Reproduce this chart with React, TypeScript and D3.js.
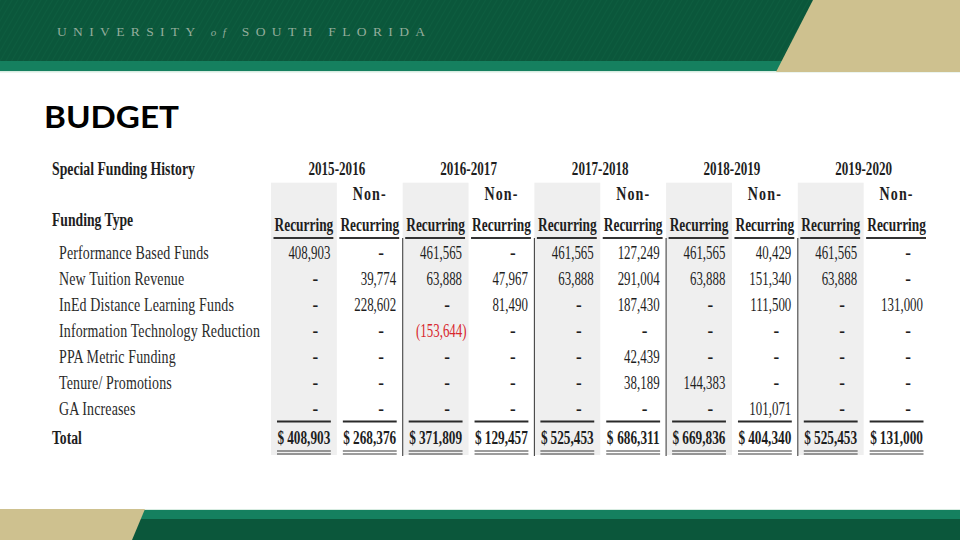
import React from 'react';
import * as d3 from 'd3';

const years = ['2015-2016', '2016-2017', '2017-2018', '2018-2019', '2019-2020'];
const columnKinds = ['Recurring', 'Non-Recurring', 'Recurring', 'Non-Recurring', 'Recurring', 'Non-Recurring', 'Recurring', 'Non-Recurring', 'Recurring', 'Non-Recurring'];
const fundingTypes = [
  'Performance Based Funds',
  'New Tuition Revenue',
  'InEd Distance Learning Funds',
  'Information Technology Reduction',
  'PPA Metric Funding',
  'Tenure/ Promotions',
  'GA Increases',
];
const performanceBased = [408903, 0, 461565, 0, 461565, 127249, 461565, 40429, 461565, 0];
const newTuition = [0, 39774, 63888, 47967, 63888, 291004, 63888, 151340, 63888, 0];
const inEdDistance = [0, 228602, 0, 81490, 0, 187430, 0, 111500, 0, 131000];
const itReduction = [0, 0, -153644, 0, 0, 0, 0, 0, 0, 0];
const ppaMetric = [0, 0, 0, 0, 0, 42439, 0, 0, 0, 0];
const tenurePromotions = [0, 0, 0, 0, 0, 38189, 144383, 0, 0, 0];
const gaIncreases = [0, 0, 0, 0, 0, 0, 0, 101071, 0, 0];

const rows = [performanceBased, newTuition, inEdDistance, itReduction, ppaMetric, tenurePromotions, gaIncreases];

const SERIF = '"Liberation Serif", "Times New Roman", serif';
const FS = 19;
const SX = 0.7;

type TProps = { x: number; y: number; text: string; anchor?: 'start' | 'middle' | 'end'; bold?: boolean; sx?: number; fill?: string; size?: number; ls?: number };
const T = ({ x, y, text, anchor = 'start', bold = false, sx = SX, fill = '#1e1e1e', size = FS, ls = 0 }: TProps) => (
  <text
    transform={`translate(${x},${y}) scale(${sx},1)`}
    textAnchor={anchor}
    fontFamily={SERIF}
    fontSize={size}
    fontWeight={bold ? 700 : 400}
    fill={fill}
    letterSpacing={ls}
  >
    {text}
  </text>
);

export default function App() {
  const cols = d3.range(columnKinds.length);
  const x = d3.scaleBand<number>().domain(cols).range([271, 929.5]).padding(0);
  const bw = x.bandwidth();
  const y = d3.scaleLinear().domain([0, fundingTypes.length - 1]).range([259, 415]);
  const fmt = d3.format(',');
  const totals = cols.map((c) => d3.sum(rows, (r) => r[c]));

  const tableTop = 182.7;
  const tableBottom = 455;
  const headerLineY = 238;
  const totalLineY = 421.5;
  const totalY = 444;

  return (
    <svg width={960} height={540} style={{ position: 'absolute', left: 0, top: 0, background: '#fff' }}>
      <defs>
        <pattern id="hatch" width={5} height={5} patternUnits="userSpaceOnUse" patternTransform="rotate(30)">
          <line x1={0} y1={0} x2={0} y2={5} stroke="#13694a" strokeWidth={1.2} opacity={0.5} />
        </pattern>
      </defs>
      <rect x={0} y={0} width={960} height={540} fill="#ffffff" />
      {/* top banner */}
      <rect x={0} y={0} width={960} height={61} fill="#0b573b" />
      <rect x={0} y={0} width={960} height={61} fill="url(#hatch)" />
      <rect x={0} y={61} width={960} height={10} fill="#15805f" />
      <rect x={0} y={71} width={960} height={1.5} fill="#d7ece1" />
      <polygon points="813,0 960,0 960,72 776,72" fill="#cec18f" />
      <text x={57} y={36} fontFamily={SERIF} fontSize={13.5} fill="#93ad9c" textLength={368} lengthAdjust="spacing">
        UNIVERSITY <tspan fontStyle="italic" fontSize={11}>of</tspan> SOUTH FLORIDA
      </text>

      {/* bottom banner */}
      <rect x={0} y={509} width={960} height={1.5} fill="#d7ece1" />
      <rect x={0} y={510} width={960} height={9} fill="#15805f" />
      <rect x={0} y={519} width={960} height={21} fill="#0b573b" />
      <polygon points="0,509 145,509 132,540 0,540" fill="#cec18f" />

      <text x={44} y={128} fontFamily='Lato, "Open Sans", sans-serif' fontSize={30} fontWeight={700} fill="#000" textLength={135} lengthAdjust="spacingAndGlyphs">
        BUDGET
      </text>

      {/* shading */}
      {cols.filter((c) => c % 2 === 0).map((c) => (
        <rect key={`sh${c}`} x={x(c)!} y={tableTop} width={bw} height={tableBottom - tableTop} fill="#efefef" />
      ))}

      {/* vertical separators */}
      {cols.filter((c) => c % 2 === 0 && c > 0).map((c) => (
        <line key={`vs${c}`} x1={x(c)!} x2={x(c)!} y1={headerLineY} y2={tableBottom + 1} stroke="#444" strokeWidth={1.1} />
      ))}

      {/* titles */}
      <T x={52} y={175} text="Special Funding History" bold sx={0.724} />
      <T x={52} y={226} text="Funding Type" bold sx={0.72} />
      {years.map((yr, i) => (
        <T key={yr} x={x(i * 2 + 1)!} y={175} text={yr} bold anchor="middle" sx={0.69} />
      ))}
      {cols.map((c) => (
        <g key={`h${c}`}>
          {columnKinds[c] === 'Non-Recurring' && (
            <T x={x(c)! + bw / 2} y={200} text="Non-" bold anchor="middle" sx={0.74} ls={1.5} />
          )}
          <T x={x(c)! + bw / 2} y={231} text="Recurring" bold anchor="middle" sx={0.705} />
          <line x1={x(c)! + 2.5} x2={x(c)! + bw - 3.5} y1={headerLineY} y2={headerLineY} stroke="#333" strokeWidth={2} />
        </g>
      ))}

      {/* rows */}
      {fundingTypes.map((label, r) => (
        <g key={label}>
          <T x={59} y={y(r)} text={label} sx={0.735} fill="#2a2a2a" ls={0.2} />
          {cols.map((c) => {
            const v = rows[r][c];
            const right = x(c)! + bw;
            if (v === 0) return <T key={c} x={right - 21.5} y={y(r)} text="-" anchor="middle" sx={0.9} bold />;
            if (v < 0)
              return <T key={c} x={right - 2} y={y(r)} text={`(${fmt(-v)})`} anchor="end" fill="#d8262c" sx={0.68} />;
            return <T key={c} x={right - 6.5} y={y(r)} text={fmt(v)} anchor="end" sx={0.68} />;
          })}
        </g>
      ))}

      {/* totals */}
      <T x={52} y={totalY} text="Total" bold sx={0.72} />
      {cols.map((c) => {
        const left = x(c)!;
        const right = left + bw;
        return (
          <g key={`t${c}`}>
            <line x1={left + 6} x2={right - 6} y1={totalLineY} y2={totalLineY} stroke="#2a2a2a" strokeWidth={1.8} />
            <T x={left + 6.5} y={totalY} text="$" bold sx={0.7} />
            <T x={right - 6.5} y={totalY} text={fmt(totals[c])} anchor="end" bold sx={0.7} />
            <line x1={left + 6} x2={right - 6} y1={451} y2={451} stroke="#3a3a3a" strokeWidth={1.2} />
            <line x1={left + 6} x2={right - 6} y1={454} y2={454} stroke="#3a3a3a" strokeWidth={1.2} />
          </g>
        );
      })}
    </svg>
  );
}
